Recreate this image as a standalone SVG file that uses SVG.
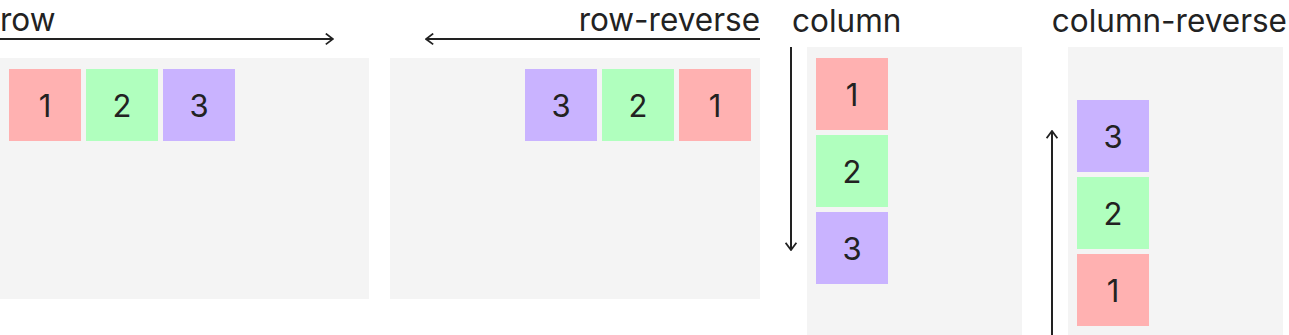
<svg xmlns="http://www.w3.org/2000/svg" width="1289" height="335" viewBox="0 0 1289 335">
<style>
.panel{fill:#f4f4f4}
.lbl{font-family:Inter,"Liberation Sans",sans-serif;font-size:31.5px;fill:#222}
.num{font-family:Inter,"Liberation Sans",sans-serif;font-size:31px;fill:#222;text-anchor:middle}
.r{fill:#ffb1b1}.g{fill:#b0ffbe}.p{fill:#c9b3ff}
.arr{stroke:#222;stroke-width:2;fill:none}
</style>
<defs>
<marker id="ah" viewBox="0 0 10 14" refX="9" refY="7" markerWidth="9" markerHeight="13" markerUnits="userSpaceOnUse" orient="auto">
<path d="M1,1 L9,7 L1,13" fill="none" stroke="#222" stroke-width="2"/>
</marker>
</defs>
<g id="panel-row">
<rect class="panel" x="0" y="58" width="369" height="241"/>
<text class="lbl" x="0" y="31">row</text>
<rect class="r" x="9" y="69" width="72" height="72"/><text class="num" x="45" y="117">1</text>
<rect class="g" x="86" y="69" width="72" height="72"/><text class="num" x="122" y="117">2</text>
<rect class="p" x="163" y="69" width="72" height="72"/><text class="num" x="199" y="117">3</text>
</g>
<g id="panel-row-reverse">
<rect class="panel" x="390" y="58" width="370" height="241"/>
<text class="lbl" x="760" y="31" text-anchor="end">row-reverse</text>
<rect class="p" x="525" y="69" width="72" height="72"/><text class="num" x="561" y="117">3</text>
<rect class="g" x="602" y="69" width="72" height="72"/><text class="num" x="638" y="117">2</text>
<rect class="r" x="679" y="69" width="72" height="72"/><text class="num" x="715" y="117">1</text>
</g>
<g id="panel-column">
<rect class="panel" x="807" y="47" width="215" height="288"/>
<text class="lbl" x="792" y="32">column</text>
<rect class="r" x="816" y="58" width="72" height="72"/><text class="num" x="852" y="106">1</text>
<rect class="g" x="816" y="135" width="72" height="72"/><text class="num" x="852" y="183">2</text>
<rect class="p" x="816" y="212" width="72" height="72"/><text class="num" x="852" y="260">3</text>
</g>
<g id="panel-column-reverse">
<rect class="panel" x="1068" y="47" width="215" height="288"/>
<text class="lbl" x="1287" y="32" text-anchor="end">column-reverse</text>
<rect class="p" x="1077" y="100" width="72" height="72"/><text class="num" x="1113" y="148">3</text>
<rect class="g" x="1077" y="177" width="72" height="72"/><text class="num" x="1113" y="225">2</text>
<rect class="r" x="1077" y="254" width="72" height="72"/><text class="num" x="1113" y="302">1</text>
</g>
<g id="connectors">
<line class="arr" x1="0" y1="39" x2="333" y2="39" marker-end="url(#ah)"/>
<line class="arr" x1="760" y1="39" x2="426" y2="39" marker-end="url(#ah)"/>
<line class="arr" x1="791" y1="47" x2="791" y2="250" marker-end="url(#ah)"/>
<line class="arr" x1="1052" y1="335" x2="1052" y2="131" marker-end="url(#ah)"/>
</g>
</svg>
